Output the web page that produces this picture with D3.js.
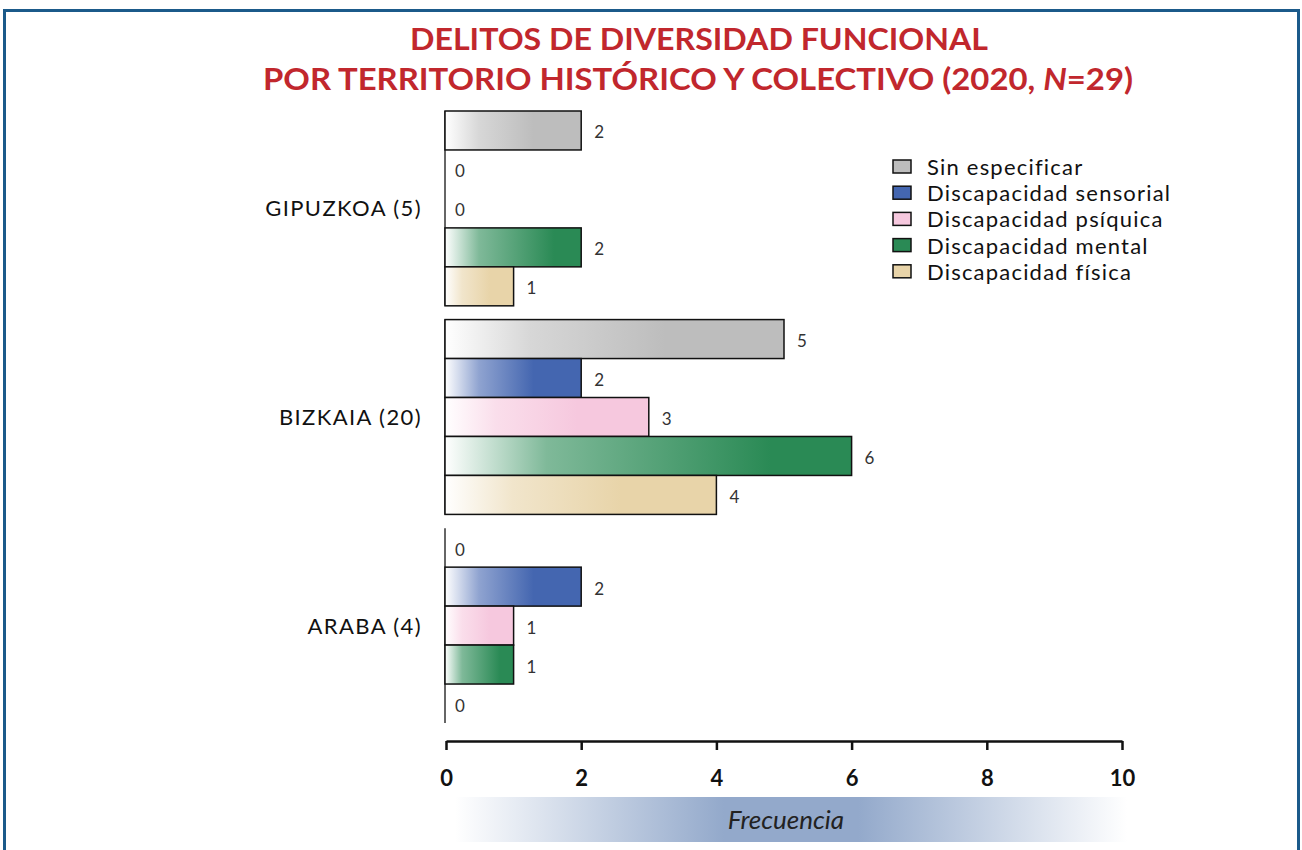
<!DOCTYPE html>
<html>
<head>
<meta charset="utf-8">
<script src="https://cdn.jsdelivr.net/npm/d3@7"></script>
<style>
  body { margin: 0; background: #fff; }
  svg text { font-family: "Lato", "DejaVu Sans", sans-serif; }
</style>
</head>
<body>
<div id="chart"></div>
<script>
// data
var territorios = ["GIPUZKOA (5)", "BIZKAIA (20)", "ARABA (4)"];
var colectivos = ["Sin especificar", "Discapacidad sensorial", "Discapacidad psíquica", "Discapacidad mental", "Discapacidad física"];
var gipuzkoa = [2, 0, 0, 2, 1];
var bizkaia = [5, 2, 3, 6, 4];
var araba = [0, 2, 1, 1, 0];
var xTicks = [0, 2, 4, 6, 8, 10];
var colores = ["#bdbdbd", "#4466b0", "#f6c8de", "#2a8a55", "#e8d4a9"];

var valores = [gipuzkoa, bizkaia, araba];
var rows = [];
territorios.forEach(function(t, i) {
    colectivos.forEach(function(c, j) {
        rows.push({ territorio: t, colectivo: c, value: valores[i][j], idx: j });
    });
});

var width = 1302, height = 850;
var svg = d3.select("#chart").append("svg")
    .attr("width", width)
    .attr("height", height);

// frame
svg.append("rect")
    .attr("x", 4.5).attr("y", 10.5)
    .attr("width", 1294).attr("height", 900)
    .attr("fill", "none")
    .attr("stroke", "#1b5a8a")
    .attr("stroke-width", 3);

// title
var title = svg.append("g").attr("fill", "#c1272d").attr("font-weight", "bold").attr("text-anchor", "middle");
title.append("text")
    .attr("x", 699).attr("y", 50)
    .attr("font-size", 30)
    .attr("textLength", 578).attr("lengthAdjust", "spacingAndGlyphs")
    .text("DELITOS DE DIVERSIDAD FUNCIONAL");
var t2 = title.append("text")
    .attr("x", 698).attr("y", 90)
    .attr("font-size", 30)
    .attr("textLength", 870).attr("lengthAdjust", "spacingAndGlyphs");
t2.append("tspan").text("POR TERRITORIO HISTÓRICO Y COLECTIVO (2020, ");
t2.append("tspan").attr("font-style", "italic").text("N");
t2.append("tspan").text("=29)");

// scales
var x = d3.scaleLinear().domain([0, 10]).range([446, 1122]);
var y0 = d3.scaleBand().domain(territorios).range([111, 723]).paddingInner(0.066);
var y1 = d3.scaleBand().domain(colectivos).range([0, y0.bandwidth()]);
var color = d3.scaleOrdinal().domain(colectivos).range(colores);

// gradients
var defs = svg.append("defs");
colectivos.forEach(function(c, i) {
    var g = defs.append("linearGradient").attr("id", "grad" + i)
        .attr("x1", "0%").attr("x2", "100%").attr("y1", "0%").attr("y2", "0%");
    var mid = d3.interpolateRgb("#fff", colores[i]);
    g.append("stop").attr("offset", "0%").attr("stop-color", "#fff");
    g.append("stop").attr("offset", "25%").attr("stop-color", mid(0.6));
    g.append("stop").attr("offset", i == 3 ? "80%" : "65%").attr("stop-color", colores[i]);
    g.append("stop").attr("offset", "100%").attr("stop-color", colores[i]);
});

// group baselines
svg.selectAll(".baseline").data(territorios).enter().append("line")
    .attr("class", "baseline")
    .attr("x1", x(0) - 1).attr("x2", x(0) - 1)
    .attr("y1", function(d) { return y0(d); })
    .attr("y2", function(d) { return y0(d) + y0.bandwidth(); })
    .attr("stroke", "#333").attr("stroke-width", 1.5);

// bars
svg.selectAll(".bar").data(rows.filter(function(d) { return d.value > 0; })).enter().append("rect")
    .attr("class", "bar")
    .attr("x", x(0) - 1)
    .attr("y", function(d) { return y0(d.territorio) + y1(d.colectivo); })
    .attr("width", function(d) { return x(d.value) - x(0) + 1; })
    .attr("height", y1.bandwidth())
    .attr("fill", function(d) { return "url(#grad" + d.idx + ")"; })
    .attr("stroke", "#111")
    .attr("stroke-width", 1.5);

// value labels
svg.selectAll(".val").data(rows).enter().append("text")
    .attr("class", "val")
    .attr("x", function(d) { return x(d.value) + (d.value == 0 ? 9 : 13); })
    .attr("y", function(d) { return y0(d.territorio) + y1(d.colectivo) + y1.bandwidth() / 2 + 8; })
    .attr("font-size", 17)
    .attr("fill", "#333")
    .text(function(d) { return d.value; });

// category labels
svg.selectAll(".cat").data(territorios).enter().append("text")
    .attr("class", "cat")
    .attr("x", 422)
    .attr("y", function(d) { return y0(d) + y0.bandwidth() / 2 + 8; })
    .attr("text-anchor", "end")
    .attr("font-size", 22)
    .attr("letter-spacing", 1.4)
    .attr("fill", "#111")
    .text(function(d) { return d; });

// x axis
var xAxis = d3.axisBottom(x).tickValues(xTicks).tickSize(9).tickSizeOuter(0).tickPadding(20);
var gx = svg.append("g")
    .attr("transform", "translate(0,741)")
    .call(xAxis);
gx.select(".domain").attr("stroke", "#111").attr("stroke-width", 2.5);
gx.selectAll(".tick line").attr("stroke", "#111").attr("stroke-width", 2.5);
gx.selectAll(".tick text")
    .attr("font-size", 22).attr("font-weight", "bold").attr("fill", "#111")
    .style("font-family", "Lato, sans-serif");

// frecuencia band
var bg = defs.append("linearGradient").attr("id", "bandGrad");
bg.append("stop").attr("offset", "0%").attr("stop-color", "#fff");
bg.append("stop").attr("offset", "40%").attr("stop-color", "#93a9cb");
bg.append("stop").attr("offset", "60%").attr("stop-color", "#93a9cb");
bg.append("stop").attr("offset", "100%").attr("stop-color", "#fff");
svg.append("rect")
    .attr("x", 455).attr("y", 797)
    .attr("width", 672).attr("height", 45)
    .attr("fill", "url(#bandGrad)");
svg.append("text")
    .attr("x", 786).attr("y", 829)
    .attr("text-anchor", "middle")
    .attr("font-size", 26).attr("font-style", "italic")
    .attr("fill", "#222")
    .text("Frecuencia");

// legend
var legend = svg.append("g").attr("transform", "translate(893,160)");
var items = legend.selectAll(".item").data(colectivos).enter().append("g")
    .attr("transform", function(d, i) { return "translate(0," + (i * 26.2) + ")"; });
items.append("rect")
    .attr("width", 18).attr("height", 13)
    .attr("fill", function(d) { return color(d); })
    .attr("stroke", "#111").attr("stroke-width", 1.5);
items.append("text")
    .attr("x", 34).attr("y", 15)
    .attr("font-size", 22)
    .attr("letter-spacing", 1.2)
    .attr("fill", "#111")
    .text(function(d) { return d; });
</script>
</body>
</html>
